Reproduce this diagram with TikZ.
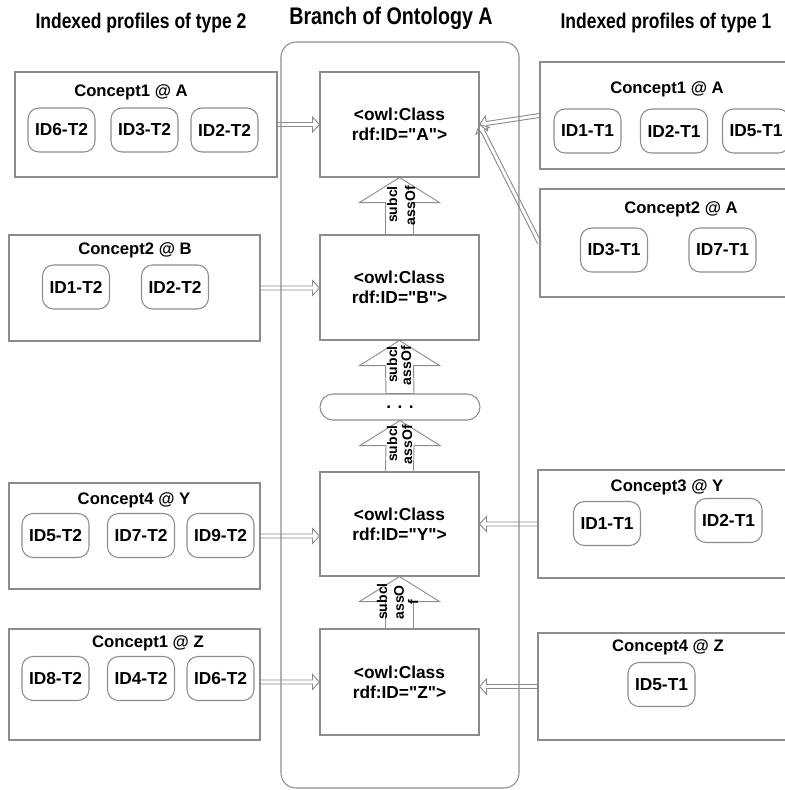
\documentclass[tikz,border=0pt]{standalone}
\usepackage{fontspec}
\setmainfont[Ligatures=TeXOff]{Liberation Sans}
\newfontfamily\titlefont[FakeStretch=0.82]{Liberation Sans}
\usetikzlibrary{calc}
\definecolor{lgray}{RGB}{140,140,140}
\newdimen\px \px=0.75pt

\tikzset{
  frame/.style={draw=lgray, line width=0.8pt, rectangle, inner sep=0pt},
  area/.style={frame},
  classbox/.style={frame, minimum width=159\px, minimum height=105\px, align=center,
    font=\bfseries\fontsize{13}{15}\selectfont},
  idbox/.style={frame, rounded corners=11\px, minimum width=67\px, minimum height=44\px,
    font=\bfseries\fontsize{13}{15}\selectfont},
  concept/.style={inner sep=0pt, font=\bfseries\fontsize{12.5}{14}\selectfont},
  heading/.style={inner sep=0pt, font=\titlefont\bfseries\fontsize{16}{18}\selectfont},
  relation/.style={inner sep=0pt, rotate=90, anchor=east, font=\bfseries\fontsize{10.5}{12}\selectfont},
  conn/.style={draw=lgray, line width=0.7pt, line join=miter},
}

% open double-lined arrow from #1 to #2
\newcommand\hollowarrow[2]{%
  \coordinate (hb) at ($(#2)!5.25pt!(#1)$);
  \draw[conn] ($(#1)!1.5pt!90:(#2)$) -- ($(hb)!1.5pt!90:(#2)$) -- ($(hb)!5.6pt!90:(#2)$)
    -- (#2) -- ($(hb)!5.6pt!-90:(#2)$) -- ($(hb)!1.5pt!-90:(#2)$) -- ($(#1)!1.5pt!-90:(#2)$);
}
% wide block arrow pointing up from node #2 to node #1
\newcommand\blockarrow[2]{%
  \draw[conn] (#1.south) -- ++(40,25) -- ++(-26,0) -- ($(#2.north)+(14,0)$)
    -- ($(#2.north)+(-14,0)$) -- ($(#1.south)+(-14,25)$) -- ++(-26,0) -- cycle;
}

\begin{document}
\begin{tikzpicture}[x=0.75pt, y=-0.75pt]
\useasboundingbox (0,0) rectangle (785,790);
\clip (0,0) rectangle (785,790);

% headings
\node[heading] (h2) at (141,23) {Indexed profiles of type 2};
\node[heading, font=\titlefont\bfseries\fontsize{18}{20}\selectfont] (h0) at (391,18) {Branch of Ontology A};
\node[heading] (h1) at (666,23) {Indexed profiles of type 1};

% ontology branch
\node[frame, rounded corners=15\px, minimum width=238\px, minimum height=746\px] (branch) at (400,415) {};

\node[classbox] (A) at (399.5,124.5) {<owl:Class\\rdf:ID="A">};
\node[classbox] (B) at (399.5,287.5) {<owl:Class\\rdf:ID="B">};
\node[frame, rounded corners=13\px, minimum width=160\px, minimum height=26\px,
      font=\bfseries\fontsize{13}{15}\selectfont] (E) at (400,407) {. . .};
\node[classbox, minimum height=104\px] (Y) at (399.5,524) {<owl:Class\\rdf:ID="Y">};
\node[classbox, minimum height=106\px] (Z) at (399.5,682) {<owl:Class\\rdf:ID="Z">};

\blockarrow{A}{B}
\blockarrow{B}{E}
\blockarrow{E}{Y}
\blockarrow{Y}{Z}

\node[relation] (r1a) at (392,186) {subcl};
\node[relation] (r1b) at (410,186) {assOf};
\node[relation] (r2a) at (392,346) {subcl};
\node[relation] (r2b) at (406,346) {assOf};
\node[relation] (r3a) at (392,425) {subcl};
\node[relation] (r3b) at (407,425) {assOf};
\node[relation] (r4a) at (382,583) {subcl};
\node[relation] (r4b) at (399,585) {assO};
\node[relation, anchor=center] (r4c) at (413,602) {f};

% profiles of type 2
\node[area, minimum width=262\px, minimum height=105\px] (L1) at (146,124.5) {};
\node[concept] (L1t) at (131,92) {Concept1 @ A};
\node[idbox] (L1a) at (61.5,130) {ID6-T2};
\node[idbox] (L1b) at (144.5,130) {ID3-T2};
\node[idbox] (L1c) at (224.5,130) {ID2-T2};

\node[area, minimum width=251\px, minimum height=106\px] (L2) at (134.5,288) {};
\node[concept] (L2t) at (135,250) {Concept2 @ B};
\node[idbox] (L2a) at (76,287) {ID1-T2};
\node[idbox] (L2b) at (175,287) {ID2-T2};

\node[area, minimum width=251\px, minimum height=106\px] (L3) at (134.5,536) {};
\node[concept] (L3t) at (134,500) {Concept4 @ Y};
\node[idbox] (L3a) at (55.5,535.5) {ID5-T2};
\node[idbox] (L3b) at (141,535.5) {ID7-T2};
\node[idbox] (L3c) at (220.5,535.5) {ID9-T2};

\node[area, minimum width=251\px, minimum height=111\px] (L4) at (134.5,684.5) {};
\node[concept] (L4t) at (148,643) {Concept1 @ Z};
\node[idbox] (L4a) at (55.5,678.5) {ID8-T2};
\node[idbox] (L4b) at (141,678.5) {ID4-T2};
\node[idbox] (L4c) at (220.5,678.5) {ID6-T2};

% profiles of type 1
\node[area, minimum width=265\px, minimum height=107\px] (R1) at (672.5,115.5) {};
\node[concept] (R1t) at (667,89) {Concept1 @ A};
\node[idbox] (R1a) at (587.5,131) {ID1-T1};
\node[idbox] (R1b) at (674,131) {ID2-T1};
\node[idbox] (R1c) at (756,131) {ID5-T1};

\node[area, minimum width=265\px, minimum height=108\px] (R2) at (672.5,243) {};
\node[concept] (R2t) at (681,209) {Concept2 @ A};
\node[idbox] (R2a) at (614,250) {ID3-T1};
\node[idbox] (R2b) at (722.5,250) {ID7-T1};

\node[area, minimum width=267\px, minimum height=108\px] (R3) at (671.5,524) {};
\node[concept] (R3t) at (667,487) {Concept3 @ Y};
\node[idbox] (R3a) at (607,523.5) {ID1-T1};
\node[idbox] (R3b) at (728.5,520.5) {ID2-T1};

\node[area, minimum width=267\px, minimum height=107\px] (R4) at (671.5,686.5) {};
\node[concept] (R4t) at (668,647) {Concept4 @ Z};
\node[idbox] (R4a) at (661.5,684.5) {ID5-T1};

% links from profiles to classes
\coordinate (tB) at (B.west |- L2.east);
\coordinate (tY) at (Y.west |- L3.east);
\coordinate (sZ) at (L4.east |- Z.west);
\coordinate (tZ) at (Z.east |- R4.west);
\hollowarrow{L1.east}{A.west}
\hollowarrow{L2.east}{tB}
\hollowarrow{L3.east}{tY}
\hollowarrow{sZ}{Z.west}
\hollowarrow{R1.west}{A.east}
\hollowarrow{R2.west}{A.east}
\hollowarrow{R3.west}{Y.east}
\hollowarrow{R4.west}{tZ}
\end{tikzpicture}
\end{document}
